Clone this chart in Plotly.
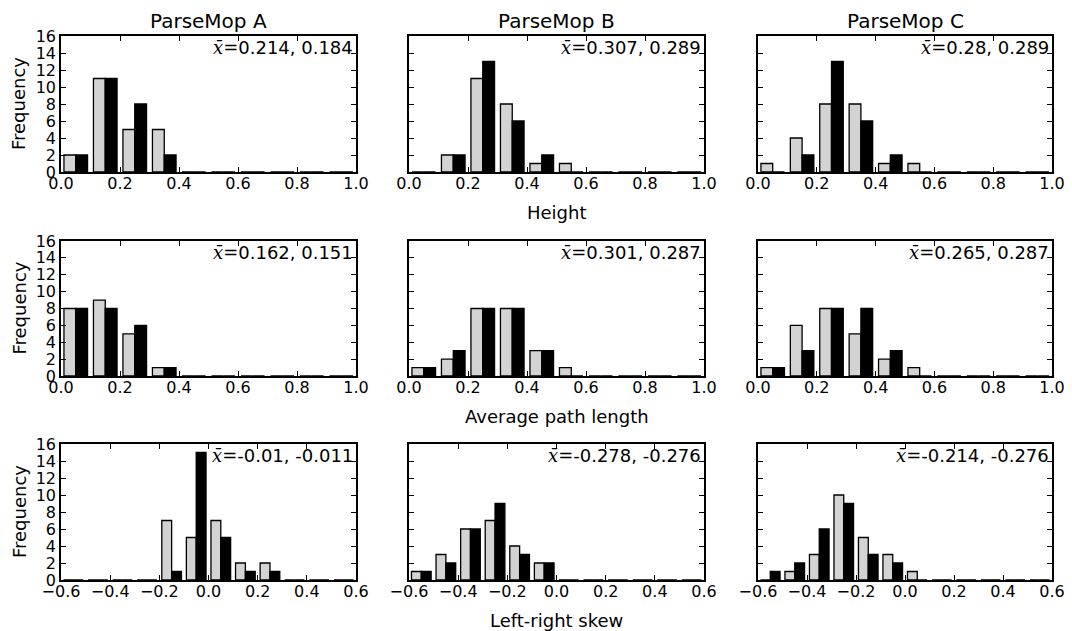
import plotly.graph_objects as go

# ---------------- data ----------------
col_names = ["ParseMop A", "ParseMop B", "ParseMop C"]
row_titles = ["Height", "Average path length", "Left-right skew"]

bins_unit = [0.0, 0.1, 0.2, 0.3, 0.4, 0.5, 0.6, 0.7, 0.8, 0.9]
bins_skew = [-0.6, -0.5, -0.4, -0.3, -0.2, -0.1, 0.0, 0.1, 0.2, 0.3, 0.4, 0.5]
bin_width = 0.1

height_A_gray = [2, 11, 5, 5, 0, 0, 0, 0, 0, 0]
height_A_black = [2, 11, 8, 2, 0, 0, 0, 0, 0, 0]
height_B_gray = [0, 2, 11, 8, 1, 1, 0, 0, 0, 0]
height_B_black = [0, 2, 13, 6, 2, 0, 0, 0, 0, 0]
height_C_gray = [1, 4, 8, 8, 1, 1, 0, 0, 0, 0]
height_C_black = [0, 2, 13, 6, 2, 0, 0, 0, 0, 0]

path_A_gray = [8, 9, 5, 1, 0, 0, 0, 0, 0, 0]
path_A_black = [8, 8, 6, 1, 0, 0, 0, 0, 0, 0]
path_B_gray = [1, 2, 8, 8, 3, 1, 0, 0, 0, 0]
path_B_black = [1, 3, 8, 8, 3, 0, 0, 0, 0, 0]
path_C_gray = [1, 6, 8, 5, 2, 1, 0, 0, 0, 0]
path_C_black = [1, 3, 8, 8, 3, 0, 0, 0, 0, 0]

skew_A_gray = [0, 0, 0, 0, 7, 5, 7, 2, 2, 0, 0, 0]
skew_A_black = [0, 0, 0, 0, 1, 15, 5, 1, 1, 0, 0, 0]
skew_B_gray = [1, 3, 6, 7, 4, 2, 0, 0, 0, 0, 0, 0]
skew_B_black = [1, 2, 6, 9, 3, 2, 0, 0, 0, 0, 0, 0]
skew_C_gray = [0, 1, 3, 10, 5, 3, 1, 0, 0, 0, 0, 0]
skew_C_black = [1, 2, 6, 9, 3, 2, 0, 0, 0, 0, 0, 0]

mean_labels = [
    ["0.214, 0.184", "0.307, 0.289", "0.28, 0.289"],
    ["0.162, 0.151", "0.301, 0.287", "0.265, 0.287"],
    ["-0.01, -0.011", "-0.278, -0.276", "-0.214, -0.276"],
]

x_ticks_unit = [0.0, 0.2, 0.4, 0.6, 0.8, 1.0]
x_ticks_skew = [-0.6, -0.4, -0.2, 0.0, 0.2, 0.4, 0.6]
y_ticks = [0, 2, 4, 6, 8, 10, 12, 14, 16]

panels = [
    [(height_A_gray, height_A_black), (height_B_gray, height_B_black), (height_C_gray, height_C_black)],
    [(path_A_gray, path_A_black), (path_B_gray, path_B_black), (path_C_gray, path_C_black)],
    [(skew_A_gray, skew_A_black), (skew_B_gray, skew_B_black), (skew_C_gray, skew_C_black)],
]
row_bins = [bins_unit, bins_unit, bins_skew]
row_xrange = [[0, 1], [0, 1], [-0.6, 0.6]]
row_xticks = [x_ticks_unit, x_ticks_unit, x_ticks_skew]

# ---------------- layout geometry ----------------
# The page body has an 8px margin; target positions are given in screenshot
# pixels and converted to figure coordinates.
OFF = 8
W, H = 1072 - OFF, 631 - OFF
col_px = [(61, 356), (409, 704), (758, 1052)]
row_px = [(36, 172), (241, 376), (444, 580)]
xtitle_y_px = [212, 416, 620]


def px_x(p):
    return (p - OFF) / W


def px_y(p):
    return 1 - (p - OFF) / H


FONT = "DejaVu Sans, Liberation Sans, sans-serif"
GRAY = "#d3d3d3"

fig = go.Figure()
layout = dict(
    width=W, height=H,
    margin=dict(l=0, r=0, t=0, b=0, autoexpand=False),
    paper_bgcolor="white", plot_bgcolor="white",
    showlegend=False, barmode="overlay",
    font=dict(family=FONT, size=16, color="black"),
)
annotations = []

bar_w = bin_width * 0.4
for r in range(3):
    for c in range(3):
        idx = r * 3 + c + 1
        xa = "x" if idx == 1 else f"x{idx}"
        ya = "y" if idx == 1 else f"y{idx}"
        gray_vals, black_vals = panels[r][c]
        bins = row_bins[r]
        gx = [b + bin_width * 0.1 + bar_w / 2 for b in bins]
        bx = [b + bin_width * 0.1 + bar_w * 1.5 for b in bins]
        fig.add_trace(go.Bar(x=gx, y=gray_vals, width=bar_w, xaxis=xa, yaxis=ya,
                             marker=dict(color=GRAY, line=dict(color="black", width=1.3)),
                             hoverinfo="x+y"))
        fig.add_trace(go.Bar(x=bx, y=black_vals, width=bar_w, xaxis=xa, yaxis=ya,
                             marker=dict(color="black", line=dict(color="black", width=1.3)),
                             hoverinfo="x+y"))
        x0, x1 = col_px[c]
        yt, yb = row_px[r]
        layout["xaxis" if idx == 1 else f"xaxis{idx}"] = dict(
            domain=[px_x(x0), px_x(x1)], anchor=ya, range=row_xrange[r],
            tickmode="array", tickvals=row_xticks[r],
            ticktext=[f"{v:.1f}".replace("-", "\u2212") for v in row_xticks[r]],
            ticks="inside", ticklen=5, tickwidth=1, tickcolor="black",
            showline=True, linecolor="black", linewidth=1.5, mirror="ticks",
            showgrid=False, zeroline=False, automargin=False, ticklabeloverflow="allow",
            ticklabelstandoff=-4,
            tickfont=dict(size=16, family=FONT, color="black"),
        )
        layout["yaxis" if idx == 1 else f"yaxis{idx}"] = dict(
            domain=[px_y(yb), px_y(yt)], anchor=xa, range=[0, 16],
            tickmode="array", tickvals=y_ticks,
            ticks="inside", ticklen=5, tickwidth=1, tickcolor="black",
            showline=True, linecolor="black", linewidth=1.5, mirror="ticks",
            showgrid=False, zeroline=False, showticklabels=(c == 0), automargin=False,
            ticklabeloverflow="allow",
            tickfont=dict(size=16, family=FONT, color="black"),
        )
        annotations.append(dict(
            xref=f"{xa} domain", yref=f"{ya} domain", x=0.995, y=1.0,
            xanchor="right", yanchor="top", yshift=1, showarrow=False,
            text="<span style='font-family:DejaVu Serif'><i>x\u0304</i>=</span>" + mean_labels[r][c],
            font=dict(size=18, family=FONT, color="black"),
        ))

# column titles
for c in range(3):
    x0, x1 = col_px[c]
    annotations.append(dict(xref="paper", yref="paper", x=px_x((x0 + x1) / 2), y=px_y(21),
                            xanchor="center", yanchor="middle", showarrow=False,
                            text=col_names[c], font=dict(size=20, family=FONT, color="black")))
# x-axis titles (centered under middle column)
for r in range(3):
    x0, x1 = col_px[1]
    annotations.append(dict(xref="paper", yref="paper", x=px_x((x0 + x1) / 2), y=px_y(xtitle_y_px[r]),
                            xanchor="center", yanchor="middle", showarrow=False,
                            text=row_titles[r], font=dict(size=18, family=FONT, color="black")))
# y-axis titles
for r in range(3):
    yt, yb = row_px[r]
    annotations.append(dict(xref="paper", yref="paper", x=px_x(19), y=px_y((yt + yb) / 2),
                            xanchor="center", yanchor="middle", showarrow=False, textangle=-90,
                            text="Frequency", font=dict(size=18, family=FONT, color="black")))

layout["annotations"] = annotations
fig.update_layout(**layout)
fig.write_html("out.html")
